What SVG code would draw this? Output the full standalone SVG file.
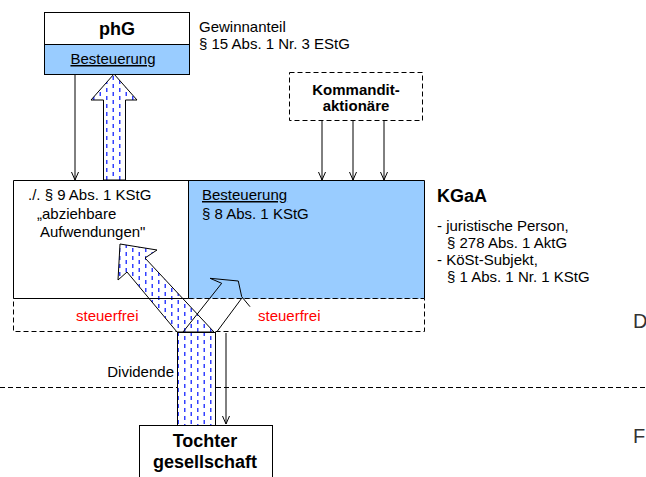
<svg xmlns="http://www.w3.org/2000/svg" width="646" height="477" viewBox="0 0 646 477">
<style>
text{font-family:"Liberation Sans",Arial,sans-serif;font-size:15px;fill:#000}
.b{font-weight:bold}
.big{font-size:18px}
.red{fill:#ff0000}
.u{text-decoration:underline}
.dash{fill:none;stroke:#000;stroke-width:1;stroke-dasharray:5 3}
.ln{fill:none;stroke:#000;stroke-width:1}
.side{font-size:20px;fill:#333}
</style>
<defs>
<pattern id="dots" patternUnits="userSpaceOnUse" width="13" height="8">
<rect width="13" height="8" fill="#fff"/>
<rect x="2" y="0" width="1.5" height="4" fill="#3340ff"/>
<rect x="8.5" y="4" width="1.5" height="4" fill="#3340ff"/>
</pattern>
<marker id="v" viewBox="0 0 8 8" refX="8" refY="4" markerWidth="8" markerHeight="8" markerUnits="userSpaceOnUse" orient="auto">
<path d="M0,0.5 L8,4 L0,7.5" fill="none" stroke="#000" stroke-width="1"/>
</marker>
</defs>

<g id="lines">
<line x1="0" y1="387.5" x2="646" y2="387.5" class="dash"/>
</g>

<g id="phG">
<rect x="44.5" y="12.5" width="145" height="32" fill="#fff" stroke="#000"/>
<rect x="44.5" y="44.5" width="145" height="30" fill="#99ccff" stroke="#000"/>
<text x="117" y="35" text-anchor="middle" class="b big">phG</text>
<text x="113" y="64" text-anchor="middle" class="u">Besteuerung</text>
</g>
<g id="gewinnanteil">
<text x="199" y="32">Gewinnanteil</text>
<text x="199" y="49">§ 15 Abs. 1 Nr. 3 EStG</text>
</g>

<g id="kommandit">
<rect x="289.5" y="72.5" width="133" height="48" class="dash"/>
<text x="356" y="95" text-anchor="middle" class="b">Kommandit-</text>
<text x="356" y="111" text-anchor="middle" class="b">aktionäre</text>
</g>

<g id="kgaa">
<rect x="13.5" y="298.5" width="411" height="33" class="dash"/>
<rect x="13.5" y="180.5" width="175" height="118" fill="#fff"/>
<rect x="188.5" y="180.5" width="236" height="118" fill="#99ccff"/>
<text x="28" y="200">./. § 9 Abs. 1 KStG</text>
<text x="37" y="219">„abziehbare</text>
<text x="40" y="237">Aufwendungen"</text>
<text x="202" y="200" class="u">Besteuerung</text>
<text x="202" y="219">§ 8 Abs. 1 KStG</text>
<text x="76" y="321" class="red">steuerfrei</text>
<text x="258" y="321" class="red">steuerfrei</text>
</g>

<g id="kgaa-label">
<text x="437" y="202" class="b big">KGaA</text>
<text x="437" y="231">- juristische Person,</text>
<text x="447" y="248">§ 278 Abs. 1 AktG</text>
<text x="437" y="265">- KöSt-Subjekt,</text>
<text x="447" y="282">§ 1 Abs. 1 Nr. 1 KStG</text>
</g>

<g id="tochter">
<rect x="139.5" y="425.5" width="133" height="60" fill="#fff" stroke="#000"/>
<text x="205" y="447" text-anchor="middle" class="b big">Tochter</text>
<text x="205" y="468" text-anchor="middle" class="b big">gesellschaft</text>
</g>

<g id="connectors">
<line x1="75" y1="75" x2="75" y2="180" class="ln" marker-end="url(#v)"/>
<line x1="322" y1="121" x2="322" y2="180" class="ln" marker-end="url(#v)"/>
<line x1="353" y1="121" x2="353" y2="180" class="ln" marker-end="url(#v)"/>
<line x1="384" y1="121" x2="384" y2="180" class="ln" marker-end="url(#v)"/>
<line x1="226" y1="333" x2="226" y2="424" class="ln" marker-end="url(#v)"/>
<polygon points="103.5,180 103.5,100 91,100 114,74 137,100 125.5,100 125.5,180" fill="url(#dots)" stroke="#000"/>
<rect x="177.5" y="332.5" width="38" height="93" fill="url(#dots)" stroke="#000"/>
<polygon points="120,244 157,250 145,258 214,332 177,332 127,272 118,280" fill="url(#dots)" stroke="#000"/>
<polyline points="183,332 221.7,283.3 210,278.3 238.3,281 241.7,296.7 250,306.7" class="ln"/>
<line x1="216.7" y1="332" x2="241.7" y2="298.3" class="ln"/>
</g>

<g id="kgaa-outline">
<path d="M13.5,180.5 H424.5 V298.5 M188.5,180.5 V298.5 M13.5,180.5 V298.5 H188.5" class="ln"/>
<line x1="188.5" y1="298.5" x2="424.5" y2="298.5" class="dash"/>
</g>

<g id="dividende">
<text x="174" y="377" text-anchor="end">Dividende</text>
</g>
<g id="regions">
<text x="633" y="328" class="side">D</text>
<text x="633" y="443" class="side">F</text>
</g>
</svg>
